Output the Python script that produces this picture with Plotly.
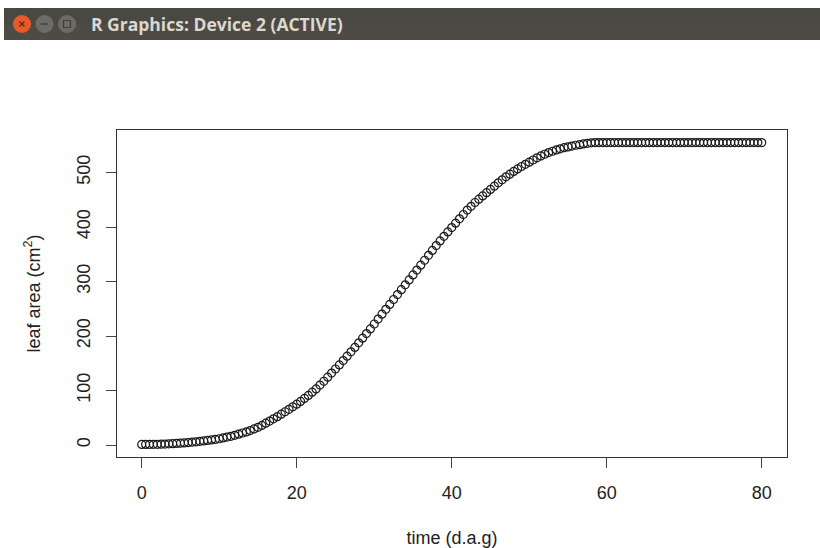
import plotly.graph_objects as go

W, H = 820, 548
L, R, T, B = 117, 787, 130, 457

time_dag = [i * 0.5 for i in range(161)]
leaf_area = [
    1.0, 1.0, 1.1, 1.2, 1.3, 1.5, 1.8, 2.1, 2.5, 2.9, 3.4, 3.9, 4.5, 5.2, 5.9, 6.7, 7.5, 8.4, 9.3, 10.3,
    11.5, 13, 14.5, 16, 17.8, 19.8, 22, 24, 26.5, 29.5, 32.5, 36, 40, 44, 48, 52, 56.5, 61, 65.5, 70,
    75, 80, 85.5, 91, 97, 103, 110, 117, 124.5, 132, 139.5, 147, 155, 163, 171, 179, 187.5, 196, 204.5, 213,
    222, 231, 240, 249, 258, 267, 276, 285, 294, 303, 312, 321, 330, 339, 348, 357, 366, 374.5, 383, 391,
    399, 407, 415, 423, 431, 438, 445, 451, 457, 463, 469, 475, 481, 486.5, 492, 497, 502, 506.5, 511, 515,
    519, 523, 527, 530.5, 533.5, 536.5, 539, 541.5, 543.5, 545.5, 547, 548.5, 550, 551, 552.5, 553.5, 554.5, 555, 555, 555,
    555, 555, 555, 555, 555, 555, 555, 555, 555, 555, 555, 555, 555, 555, 555, 555, 555, 555, 555, 555,
    555, 555, 555, 555, 555, 555, 555, 555, 555, 555, 555, 555, 555, 555, 555, 555, 555, 555, 555, 555,
    555,
]
x_ticks = [0, 20, 40, 60, 80]
y_ticks = [0, 100, 200, 300, 400, 500]
x_title = "time (d.a.g)"
y_title = "leaf area (cm<sup>2</sup>)"
window_title = "R Graphics: Device 2 (ACTIVE)"


def px(x):
    return (x - L) / (R - L)


def py(y):
    return (B - y) / (B - T)


def rect(x0, y0, x1, y1, color):
    return dict(type="rect", xref="paper", yref="paper", x0=px(x0), x1=px(x1),
                y0=py(y1), y1=py(y0), fillcolor=color, line_width=0, layer="above")


def disc(cx, cy, r, color):
    return dict(type="circle", xref="paper", yref="paper", x0=px(cx - r), x1=px(cx + r),
                y0=py(cy + r), y1=py(cy - r), fillcolor=color, line_width=0, layer="above")


def seg(x0, y0, x1, y1, color):
    return dict(type="line", xref="paper", yref="paper", x0=px(x0), x1=px(x1),
                y0=py(y0), y1=py(y1), line=dict(color=color, width=1.3), layer="above")


shapes = [
    rect(4, 8, 820, 24, "#4a4843"),
    rect(4, 24, 820, 40, "#4e4b45"),
    disc(22, 24, 9, "#e9592b"),
    seg(19.5, 21.5, 24.5, 26.5, "#5a2a14"),
    seg(24.5, 21.5, 19.5, 26.5, "#5a2a14"),
    disc(44.5, 24, 9, "#6d6b66"),
    seg(41, 24, 48, 24, "#3f3d39"),
    disc(67, 24, 9, "#6d6b66"),
    dict(type="rect", xref="paper", yref="paper", x0=px(63.5), x1=px(70.5), y0=py(27.5), y1=py(20.5),
         line=dict(color="#3f3d39", width=1.2), layer="above"),
]

fig = go.Figure(go.Scatter(
    x=time_dag, y=leaf_area, mode="markers",
    marker=dict(symbol="circle-open", size=8, color="#1a1a1a", line=dict(width=1.2, color="#1a1a1a")),
    cliponaxis=False, showlegend=False,
))

axis_common = dict(
    showgrid=False, zeroline=False, showline=True, mirror=True, linecolor="#333333", linewidth=1,
    ticks="outside", ticklen=10, tickwidth=1, tickcolor="#444444", ticklabelstandoff=9,
    automargin=False,
    tickfont=dict(family="Liberation Sans", size=18, color="#222222"),
    title_font=dict(family="Liberation Sans", size=18, color="#222222"),
)

fig.update_layout(
    width=W, height=H, autosize=False,
    margin=dict(l=L, r=W - R, t=T, b=H - B, pad=0, autoexpand=False),
    paper_bgcolor="#ffffff", plot_bgcolor="#ffffff",
    shapes=shapes,
    xaxis=dict(range=[-3.19, 83.26], tickvals=x_ticks, ticktext=[str(v) for v in x_ticks],
               title=dict(text=x_title, standoff=30), **axis_common),
    yaxis=dict(range=[-22, 578], tickvals=y_ticks, ticktext=[str(v) for v in y_ticks], tickangle=-90,
               title=dict(text=y_title, standoff=28), **axis_common),
    annotations=[dict(
        text="<b>" + window_title + "</b>", xref="paper", yref="paper", x=px(89), y=py(24),
        xanchor="left", yanchor="middle", showarrow=False,
        font=dict(family="Open Sans", size=17.5, color="#dcd8cf"),
    )],
)

fig.write_html("out.html", config=dict(displayModeBar=False),
               post_script="document.body.style.margin='0';")
